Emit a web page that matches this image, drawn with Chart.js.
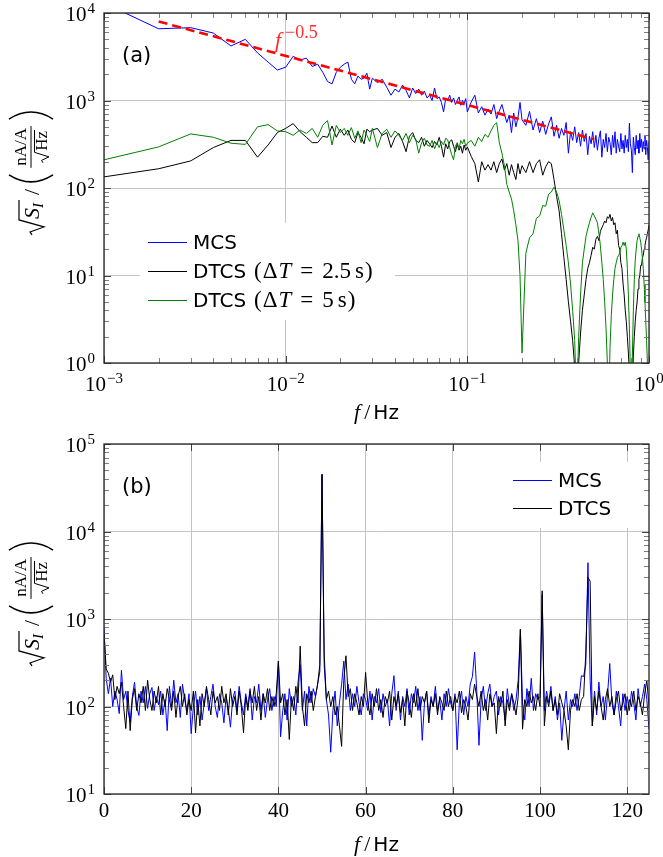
<!DOCTYPE html>
<html>
<head>
<meta charset="utf-8">
<script src="https://cdn.jsdelivr.net/npm/chart.js@4.4.0/dist/chart.umd.min.js"></script>
<style>
  html, body { margin: 0; padding: 0; background: #fff; }
  #wrap { position: relative; width: 663px; height: 857px; }
  #chartA { position: absolute; left: 0; top: 0; }
  #chartB { position: absolute; left: 0; top: 430px; }
</style>
</head>
<body>
<div id="wrap">
  <canvas id="chartA" width="663" height="430"></canvas>
  <canvas id="chartB" width="663" height="427"></canvas>
</div>
<script>
// ---- panel (a): low frequency spectra, log-log ----
const freqA = [
  0.001, 0.002, 0.003, 0.004, 0.005, 0.006, 0.007, 0.008, 0.009, 0.010,
  0.011, 0.012, 0.013, 0.014, 0.015, 0.016, 0.017, 0.018, 0.019, 0.020,
  0.021, 0.022, 0.023, 0.024, 0.025, 0.026, 0.027, 0.028, 0.029, 0.030,
  0.032, 0.034, 0.036, 0.038, 0.040, 0.042, 0.044, 0.046, 0.048, 0.050,
  0.052, 0.054, 0.056, 0.058, 0.060,
  0.062, 0.064, 0.066, 0.068, 0.070, 0.072, 0.074, 0.076, 0.078, 0.080,
  0.082, 0.084, 0.086, 0.088, 0.090, 0.092, 0.094, 0.096, 0.098, 0.100,
  0.105, 0.110, 0.115, 0.120, 0.125, 0.130, 0.135, 0.140, 0.145, 0.150,
  0.155, 0.160, 0.165, 0.170, 0.175, 0.180, 0.185, 0.190, 0.195, 0.200,
  0.21, 0.22, 0.23, 0.24, 0.25, 0.26, 0.27, 0.28, 0.29, 0.30,
  0.31, 0.32, 0.33, 0.34, 0.35, 0.36, 0.37, 0.38, 0.39, 0.40,
  0.41, 0.42, 0.43, 0.44, 0.45, 0.46, 0.47, 0.48, 0.49, 0.50,
  0.51, 0.52, 0.53, 0.54, 0.55, 0.56, 0.57, 0.58, 0.59, 0.60,
  0.61, 0.62, 0.63, 0.64, 0.65, 0.66, 0.67, 0.68, 0.69, 0.70,
  0.71, 0.72, 0.73, 0.74, 0.75, 0.76, 0.77, 0.78, 0.79, 0.80,
  0.81, 0.82, 0.83, 0.84, 0.85, 0.86, 0.87, 0.88, 0.89, 0.90,
  0.91, 0.92, 0.93, 0.94, 0.95, 0.96, 0.97, 0.98, 0.99, 1.00
];
const mcsA = [
  13000, 6600, 6800, 5900, 4200, 5000, 3500, 2750, 2230, 2400,
  3200, 2900, 3050, 2450, 2600, 2100, 1650, 1550, 2100, 2400,
  2600, 2750, 1750, 1550, 1900, 1750, 1800, 2050, 1350, 1800,
  1600, 1750, 1420, 1150, 1350, 1250, 1500, 1300, 1070, 1390,
  1200, 1350, 1150, 1280, 1070,
  1150, 1000, 1390, 1050, 1100, 950, 740, 1050, 1000, 1150,
  950, 1070, 900, 1000, 1100, 880, 1000, 930, 1050, 740,
  960, 1150, 720, 850, 680, 800, 700, 900, 620, 760,
  900, 700, 560, 680, 430, 720, 500, 640, 950, 600,
  520, 750, 460, 620, 430, 580, 410, 540, 650, 390,
  520, 370, 480, 400, 560, 250, 440, 350, 500, 330,
  430, 300, 460, 340, 420, 240, 390, 320, 440, 290,
  400, 270, 370, 450, 225, 360, 290, 420, 260, 380,
  330, 240, 400, 290, 440, 250, 360, 300, 260, 420,
  280, 350, 250, 400, 290, 360, 260, 550, 320, 270,
  150, 380, 290, 240, 400, 280, 350, 250, 420, 290,
  360, 260, 340, 280, 400, 240, 350, 290, 210, 340
];
const dtcs25A = [
  134, 166, 204, 290, 350, 350, 225, 310, 430, 480,
  545, 440, 380, 330, 330, 390, 380, 510, 380, 470,
  400, 460, 360, 330, 430, 380, 320, 470, 440, 460,
  480, 400, 430, 290, 380, 420, 340, 260, 390, 430,
  350, 330, 380, 300, 350,
  320, 290, 340, 310, 380, 300, 225, 320, 280, 340,
  355, 300, 260, 320, 270, 300, 250, 310, 270, 295,
  230, 190, 117, 200, 160, 185, 160, 200, 150, 190,
  215, 160, 190, 140, 185, 150, 125, 190, 145, 180,
  150, 200, 150, 190, 210, 140, 175, 200, 190, 125,
  80, 55, 30, 16, 9, 5, 3, 1.8, 0.9, 0.3,
  1.0, 2.2, 4, 6, 9, 12, 14, 17, 21, 20,
  26, 28, 25, 32, 35, 38, 42, 40, 47, 45,
  50, 42, 46, 38, 40, 30, 33, 22, 20, 14,
  12, 8, 6, 4, 3, 2, 1.3, 0.8, 0.4, 0.2,
  0.6, 1.2, 2, 3, 4, 5, 7, 9, 10, 13,
  13, 16, 17, 20, 22, 25, 27, 30, 33, 38
];
const dtcs5A = [
  210, 295, 415, 380, 325, 315, 500, 530, 450, 440,
  400, 460, 420, 480, 380, 520, 590, 310, 520, 430,
  480, 400, 490, 370, 450, 330, 460, 400, 340, 480,
  290, 420, 470, 380, 450, 400, 350, 420, 330, 400,
  360, 250, 330, 370, 310,
  300, 350, 280, 330, 290, 340, 310, 370, 355, 290,
  240, 210, 300, 330, 280, 350, 320, 360, 300, 325,
  350, 300, 380, 340, 410, 380, 450, 520, 560, 330,
  250, 180, 110, 90, 75, 55, 38, 25, 10, 1.3,
  18, 27, 30, 45, 48, 63, 62, 85, 90, 102,
  90, 72, 50, 33, 22, 14, 8, 4, 1.8, 0.3,
  2, 6, 14, 20, 28, 34, 40, 46, 52, 48,
  44, 40, 30, 22, 14, 9, 5, 2.5, 1, 0.3,
  1.5, 3.5, 6, 9, 12, 14, 16, 17, 18, 21,
  22, 24, 22, 24, 20, 12, 6, 2.5, 0.8, 0.2,
  1.2, 4, 9, 15, 20, 25, 28, 30, 27, 24,
  20, 16, 12, 8, 5, 3, 1.8, 1, 0.5, 0.2
];
const fitF = [0.002, 0.5];
const fitS = [8000, 360];
const ticksAX = [0.001, 0.01, 0.1, 1];
const ticksAY = [1, 10, 100, 1000, 10000];

// ---- panel (b): 0..125 Hz, semilog ----
const freqB = [
  0, 0.5, 1, 1.5, 2, 2.5, 3, 3.5, 4, 4.5, 5, 5.5, 6, 6.5, 7, 7.5, 8, 8.5, 9, 9.5,
  10, 10.5, 11, 11.5, 12, 12.5, 13, 13.5, 14, 14.5, 15, 15.5, 16, 16.5, 17, 17.5, 18, 18.5, 19, 19.5,
  20, 20.5, 21, 21.5, 22, 22.5, 23, 23.5, 24, 24.5, 25, 25.5, 26, 26.5, 27, 27.5, 28, 28.5, 29, 29.5,
  30, 30.5, 31, 31.5, 32, 32.5, 33, 33.5, 34, 34.5, 35, 35.5, 36, 36.5, 37, 37.5, 38, 38.5, 39, 39.5,
  40, 40.5, 41, 41.5, 42, 42.5, 43, 43.5, 44, 44.5, 45, 45.5, 46, 46.5, 47, 47.5, 48, 48.5, 49, 49.5,
  50, 50.5, 51, 51.5, 52, 52.5, 53, 53.5, 54, 54.5, 55, 55.5, 56, 56.5, 57, 57.5, 58, 58.5, 59, 59.5,
  60, 60.5, 61, 61.5, 62, 62.5, 63, 63.5, 64, 64.5, 65, 65.5, 66, 66.5, 67, 67.5, 68, 68.5, 69, 69.5,
  70, 70.5, 71, 71.5, 72, 72.5, 73, 73.5, 74, 74.5, 75, 75.5, 76, 76.5, 77, 77.5, 78, 78.5, 79, 79.5,
  80, 80.5, 81, 81.5, 82, 82.5, 83, 83.5, 84, 84.5, 85, 85.5, 86, 86.5, 87, 87.5, 88, 88.5, 89, 89.5,
  90, 90.5, 91, 91.5, 92, 92.5, 93, 93.5, 94, 94.5, 95, 95.5, 96, 96.5, 97, 97.5, 98, 98.5, 99, 99.5,
  100, 100.5, 101, 101.5, 102, 102.5, 103, 103.5, 104, 104.5, 105, 105.5, 106, 106.5, 107, 107.5, 108, 108.5, 109, 109.5,
  110, 110.5, 111, 111.5, 112, 112.5, 113, 113.5, 114, 114.5, 115, 115.5, 116, 116.5, 117, 117.5, 118, 118.5, 119, 119.5,
  120, 120.5, 121, 121.5, 122, 122.5, 123, 123.5, 124, 124.5, 125
];
const mcsB = [
  800, 210, 140, 210, 100, 150, 120, 83, 260, 120, 150, 90, 66, 130, 190, 100, 79, 150, 110, 170,
  95, 140, 165, 90, 130, 105, 150, 80, 120, 53, 170, 100, 200, 110, 140, 75, 180, 120, 90, 140,
  49, 100, 150, 80, 130, 70, 110, 160, 90, 130, 180, 100, 75, 140, 110, 65, 130, 95, 58, 120,
  150, 90, 170, 110, 80, 140, 100, 160, 70, 130, 110, 180, 90, 140, 75, 120, 160, 90, 130, 100,
  330, 45, 90, 140, 70, 160, 100, 130, 80, 190, 300, 90, 150, 60, 170, 110, 160, 130, 180, 250,
  45000, 300, 120, 80, 30, 90, 150, 60, 110, 180, 330, 120, 180, 90, 140, 100, 170, 110, 80, 140,
  120, 90, 150, 70, 130, 110, 160, 85, 140, 100, 120, 60, 140, 225, 90, 150, 70, 130, 100, 160,
  80, 140, 110, 170, 90, 130, 41, 110, 150, 80, 130, 100, 170, 90, 120, 70, 140, 100, 160, 110,
  90, 140, 32, 110, 150, 80, 130, 100, 180, 220, 420, 150, 36, 120, 170, 90, 140, 180, 100, 130,
  150, 80, 130, 110, 70, 160, 100, 140, 90, 120, 200, 760, 110, 70, 160, 100, 210, 90, 140, 120,
  130, 1900, 90, 150, 110, 170, 90, 130, 70, 110, 41, 90, 150, 70, 120, 100, 140, 90, 130, 225,
  220, 300, 4400, 200, 60, 150, 80, 190, 100, 130, 70, 140, 310, 110, 80, 150, 100, 60, 140, 90,
  130, 90, 150, 110, 70, 160, 100, 130, 180, 120, 55
];
const dtcsB = [
  700, 270, 240, 190, 230, 120, 170, 140, 190, 100, 56, 150, 53, 120, 160, 90, 140, 110, 170, 90,
  200, 120, 90, 150, 110, 170, 80, 140, 100, 160, 120, 90, 150, 75, 130, 170, 100, 140, 80, 120,
  90, 150, 50, 120, 60, 140, 100, 170, 120, 80, 150, 110, 130, 90, 170, 110, 140, 80, 160, 100,
  130, 80, 150, 100, 50, 130, 90, 150, 110, 170, 90, 130, 70, 140, 110, 160, 90, 130, 100, 140,
  330, 110, 140, 80, 120, 42, 130, 90, 170, 110, 490, 100, 60, 140, 110, 150, 90, 130, 180, 300,
  45000, 400, 120, 150, 100, 130, 80, 100, 60, 35, 200, 380, 130, 160, 90, 140, 110, 80, 130, 100,
  245, 110, 80, 140, 100, 160, 90, 120, 75, 130, 110, 150, 70, 130, 100, 140, 85, 120, 60, 150,
  110, 75, 140, 100, 160, 90, 130, 110, 150, 65, 120, 100, 140, 80, 130, 110, 90, 150, 100, 130,
  90, 130, 110, 150, 85, 120, 100, 70, 140, 120, 180, 130, 100, 150, 90, 120, 70, 140, 100, 110,
  49, 130, 100, 150, 60, 120, 90, 140, 110, 80, 130, 760, 55, 120, 100, 150, 110, 130, 90, 140,
  100, 2100, 60, 130, 100, 150, 90, 120, 80, 140, 110, 90, 60, 32, 90, 120, 100, 140, 90, 120,
  130, 400, 3000, 2700, 60, 130, 90, 150, 100, 70, 120, 160, 100, 130, 80, 120, 150, 90, 110, 140,
  80, 120, 100, 150, 90, 130, 110, 80, 140, 200, 100
];
const ticksBX = [0, 20, 40, 60, 80, 100, 120];
const ticksBY = [10, 100, 1000, 10000, 100000];

const SERIF = '"Liberation Serif", "DejaVu Serif", serif';
const SANS = '"DejaVu Sans", "Liberation Sans", sans-serif';
const GRID = '#c4c4c4';

function series(xs, ys) {
  return xs.map((x, i) => ({ x, y: ys[i] }));
}

function drawRuns(ctx, runs, x, y) {
  for (const r of runs) {
    ctx.font = r.font;
    ctx.fillText(r.t, x, y + (r.dy || 0));
    x += ctx.measureText(r.t).width + (r.gap || 0);
  }
  return x;
}

function runsWidth(ctx, runs) {
  let w = 0;
  for (const r of runs) {
    ctx.font = r.font;
    w += ctx.measureText(r.t).width + (r.gap || 0);
  }
  return w;
}

// "DTCS (ΔT = 2.5 s)" -> sans name + math part
function legendRuns(label) {
  const i = label.indexOf(' (');
  if (i < 0) return [{ t: label, font: `20px ${SANS}` }];
  const inner = label.slice(i + 2, -1);
  const [lhs, rhs] = inner.split(' = ');
  const val = rhs.replace(' s', '');
  const f = `23px ${SERIF}`;
  return [
    { t: label.slice(0, i), font: `20px ${SANS}`, gap: 8 },
    { t: '(', font: f, gap: 1 },
    { t: lhs.charAt(0), font: f, gap: 1 },
    { t: lhs.slice(1), font: `italic ${f}`, gap: 9 },
    { t: '=', font: f, gap: 9 },
    { t: val, font: f, gap: 4 },
    { t: 's', font: f, gap: 1 },
    { t: ')', font: f }
  ];
}

function drawPow(ctx, exp, x, y, align) {
  const base = '10';
  const sup = exp < 0 ? '\u2212' + (-exp) : String(exp);
  ctx.font = `21px ${SERIF}`;
  const bw = ctx.measureText(base).width;
  ctx.font = `15px ${SERIF}`;
  const sw = ctx.measureText(sup).width;
  const total = bw + 1 + sw;
  const x0 = align === 'right' ? x - total : x - total / 2;
  ctx.font = `21px ${SERIF}`;
  ctx.fillText(base, x0, y);
  ctx.font = `15px ${SERIF}`;
  ctx.fillText(sup, x0 + bw + 1, y - 8);
}

function drawParen(ctx, x, cy, h, w, left) {
  ctx.beginPath();
  if (left) {
    ctx.moveTo(x + w - 1, cy - h);
    ctx.quadraticCurveTo(x - w * 0.5, cy, x + w - 1, cy + h);
  } else {
    ctx.moveTo(x + 1, cy - h);
    ctx.quadraticCurveTo(x + w * 1.5, cy, x + 1, cy + h);
  }
  ctx.stroke();
}

function drawYTitle(ctx, cx, cy) {
  ctx.save();
  ctx.translate(cx, cy);
  ctx.rotate(-Math.PI / 2);
  ctx.fillStyle = '#000';
  ctx.strokeStyle = '#000';
  const axis = -8;
  ctx.font = `italic 22px ${SERIF}`;
  const sW = ctx.measureText('S').width;
  ctx.font = `italic 15px ${SERIF}`;
  const iW = ctx.measureText('I').width;
  ctx.font = `22px ${SERIF}`;
  const slW = ctx.measureText('/').width;
  ctx.font = `17px ${SERIF}`;
  const numW = ctx.measureText('nA/A').width;
  const hzW = ctx.measureText('Hz').width;
  const radW = 17, smallRad = 12, parW = 10, gap = 5;
  const fracW = Math.max(numW, smallRad + hzW) + 6;
  const total = radW + sW + iW + 3 + gap + slW + gap + parW + gap + fracW + gap + parW;
  let x = -total / 2;

  ctx.lineWidth = 1.2;
  ctx.beginPath();
  ctx.moveTo(x + 1, -7);
  ctx.lineTo(x + 4, -9);
  ctx.lineTo(x + 9, 5);
  ctx.lineTo(x + 16, -20);
  ctx.lineTo(x + radW + sW + iW + 3, -20);
  ctx.stroke();
  x += radW;
  ctx.font = `italic 22px ${SERIF}`;
  ctx.fillText('S', x, 0);
  x += sW;
  ctx.font = `italic 15px ${SERIF}`;
  ctx.fillText('I', x, 4);
  x += iW + 3 + gap;
  ctx.font = `22px ${SERIF}`;
  ctx.fillText('/', x, 0);
  x += slW + gap;

  ctx.lineWidth = 1.6;
  drawParen(ctx, x, axis, 22, parW, true);
  x += parW + gap;

  const fc = x + fracW / 2;
  ctx.font = `17px ${SERIF}`;
  ctx.fillText('nA/A', fc - numW / 2, axis - 5);
  ctx.lineWidth = 1;
  ctx.beginPath();
  ctx.moveTo(x + 1, axis);
  ctx.lineTo(x + fracW - 1, axis);
  ctx.stroke();
  const dx = fc - (smallRad + hzW) / 2;
  ctx.beginPath();
  ctx.moveTo(dx, axis + 12);
  ctx.lineTo(dx + 2.5, axis + 10.5);
  ctx.lineTo(dx + 6, axis + 18);
  ctx.lineTo(dx + 10.5, axis + 3.5);
  ctx.lineTo(dx + smallRad + hzW + 1, axis + 3.5);
  ctx.stroke();
  ctx.fillText('Hz', dx + smallRad, axis + 16);
  x += fracW + gap;

  ctx.lineWidth = 1.6;
  drawParen(ctx, x, axis, 22, parW, false);
  ctx.restore();
}

function drawXTitle(ctx, cx, y) {
  const runs = [
    { t: 'f', font: `italic 22px ${SERIF}`, gap: 4 },
    { t: '/', font: `22px ${SERIF}`, gap: 3 },
    { t: 'Hz', font: `20px ${SANS}` }
  ];
  drawRuns(ctx, runs, cx - runsWidth(ctx, runs) / 2, y);
}

function logMinors(scale) {
  const out = [];
  const lo = Math.round(Math.log10(scale.min));
  const hi = Math.round(Math.log10(scale.max));
  for (let d = lo; d < hi; d++) {
    for (let k = 2; k <= 9; k++) out.push(k * Math.pow(10, d));
  }
  return out;
}

function decor(cfg) {
  return {
    id: 'decor',
    afterDatasetsDraw(chart) {
      const ctx = chart.ctx;
      const a = chart.chartArea;
      const xs = chart.scales.x;
      const ys = chart.scales.y;
      ctx.save();
      ctx.textAlign = 'left';
      ctx.textBaseline = 'alphabetic';

      // legend box
      const lg = cfg.legend;
      ctx.fillStyle = '#fff';
      ctx.fillRect(lg.box[0], lg.box[1], lg.box[2], lg.box[3]);
      lg.items.forEach((di, r) => {
        const ds = chart.data.datasets[di];
        const ry = lg.rows[r];
        ctx.strokeStyle = ds.borderColor;
        ctx.lineWidth = 1;
        ctx.beginPath();
        ctx.moveTo(lg.x0, ry + 0.5);
        ctx.lineTo(lg.x1, ry + 0.5);
        ctx.stroke();
        ctx.fillStyle = '#000';
        drawRuns(ctx, legendRuns(ds.label), lg.tx, ry + 7);
      });

      // minor ticks (log axes) on all four sides
      ctx.lineWidth = 1;
      ctx.strokeStyle = '#808080';
      ctx.beginPath();
      if (cfg.xLog) {
        for (const v of logMinors(xs)) {
          const px = Math.round(xs.getPixelForValue(v)) + 0.5;
          ctx.moveTo(px, a.bottom); ctx.lineTo(px, a.bottom - 5);
          ctx.moveTo(px, a.top); ctx.lineTo(px, a.top + 5);
        }
      }
      for (const v of logMinors(ys)) {
        const py = Math.round(ys.getPixelForValue(v)) + 0.5;
        ctx.moveTo(a.left, py); ctx.lineTo(a.left + 5, py);
        ctx.moveTo(a.right, py); ctx.lineTo(a.right - 5, py);
      }
      ctx.stroke();

      // major ticks
      ctx.strokeStyle = '#444';
      ctx.beginPath();
      for (const t of xs.ticks) {
        const px = Math.round(xs.getPixelForValue(t.value)) + 0.5;
        ctx.moveTo(px, a.bottom); ctx.lineTo(px, a.bottom - 7);
        ctx.moveTo(px, a.top); ctx.lineTo(px, a.top + 7);
      }
      for (const t of ys.ticks) {
        const py = Math.round(ys.getPixelForValue(t.value)) + 0.5;
        ctx.moveTo(a.left, py); ctx.lineTo(a.left + 7, py);
        ctx.moveTo(a.right, py); ctx.lineTo(a.right - 7, py);
      }
      ctx.stroke();

      // frame
      ctx.strokeStyle = '#262626';
      ctx.lineWidth = 1.3;
      ctx.strokeRect(a.left, a.top, a.right - a.left, a.bottom - a.top);

      // tick labels
      ctx.fillStyle = '#000';
      for (const t of ys.ticks) {
        const py = ys.getPixelForValue(t.value);
        drawPow(ctx, Math.round(Math.log10(t.value)), a.left - 9, py + 8, 'right');
      }
      for (const t of xs.ticks) {
        const px = xs.getPixelForValue(t.value);
        if (cfg.xLog) {
          drawPow(ctx, Math.round(Math.log10(t.value)), px, a.bottom + 28, 'center');
        } else {
          ctx.font = `21px ${SERIF}`;
          const s = String(t.value);
          ctx.fillText(s, px - ctx.measureText(s).width / 2, a.bottom + 23);
        }
      }

      // axis titles
      drawXTitle(ctx, (a.left + a.right) / 2, cfg.xTitleY);
      drawYTitle(ctx, 39, (a.top + a.bottom) / 2 - 15);

      // panel tag
      ctx.fillStyle = '#000';
      ctx.font = `21px ${SANS}`;
      ctx.fillText(cfg.tag, a.left + 18, a.top + 49);

      // slope annotation
      if (cfg.slope) {
        ctx.fillStyle = '#ff2a2a';
        ctx.font = `italic 22px ${SERIF}`;
        ctx.fillText('f', cfg.slope.x, cfg.slope.y);
        const fw = ctx.measureText('f').width;
        ctx.font = `18px ${SERIF}`;
        ctx.fillText('\u22120.5', cfg.slope.x + fw + 4, cfg.slope.y - 9);
      }
      ctx.restore();
    }
  };
}

function scaleOpts(type, min, max, tickList, size, isX) {
  return {
    type, min, max,
    ticks: { display: false },
    grid: { color: GRID, lineWidth: 1, drawTicks: false },
    border: { display: false },
    afterBuildTicks(scale) {
      scale.ticks = tickList.map((v) => ({ value: v }));
    },
    afterFit(scale) {
      if (isX) scale.height = size; else scale.width = size;
    }
  };
}

const common = {
  responsive: false,
  animation: false,
  events: [],
  elements: { point: { radius: 0 }, line: { tension: 0 } },
  plugins: { legend: { display: false }, tooltip: { enabled: false } }
};

new Chart(document.getElementById('chartA'), {
  type: 'line',
  data: {
    datasets: [
      { label: 'MCS', data: series(freqA, mcsA), borderColor: '#0000ff', borderWidth: 1, order: 4 },
      { label: 'DTCS (\u0394T = 2.5 s)', data: series(freqA, dtcs25A), borderColor: '#000000', borderWidth: 1, order: 3 },
      { label: 'DTCS (\u0394T = 5 s)', data: series(freqA, dtcs5A), borderColor: '#008000', borderWidth: 1, order: 2 },
      { label: 'f^-0.5', data: series(fitF, fitS), borderColor: '#ff0000', borderWidth: 2.6, borderDash: [9, 5], order: 1 }
    ]
  },
  options: {
    ...common,
    layout: { padding: { left: 0, right: 14, top: 13, bottom: 0 } },
    scales: {
      x: scaleOpts('logarithmic', 0.001, 1, ticksAX, 67, true),
      y: scaleOpts('logarithmic', 1, 10000, ticksAY, 104, false)
    }
  },
  plugins: [decor({
    xLog: true,
    xTitleY: 419,
    tag: '(a)',
    slope: { x: 275, y: 47 },
    legend: { x0: 148, x1: 187, tx: 193, rows: [242, 271, 300], box: [140, 223, 255, 97], items: [0, 1, 2] }
  })]
});

new Chart(document.getElementById('chartB'), {
  type: 'line',
  data: {
    datasets: [
      { label: 'MCS', data: series(freqB, mcsB), borderColor: '#0000ff', borderWidth: 1, order: 2 },
      { label: 'DTCS', data: series(freqB, dtcsB), borderColor: '#000000', borderWidth: 1, order: 1 }
    ]
  },
  options: {
    ...common,
    layout: { padding: { left: 0, right: 14, top: 14, bottom: 0 } },
    scales: {
      x: scaleOpts('linear', 0, 125, ticksBX, 63, true),
      y: scaleOpts('logarithmic', 10, 100000, ticksBY, 104, false)
    }
  },
  plugins: [decor({
    xLog: false,
    xTitleY: 421,
    tag: '(b)',
    legend: { x0: 513, x1: 552, tx: 558, rows: [50, 78], box: [505, 32, 127, 66], items: [0, 1] }
  })]
});
</script>
</body>
</html>
